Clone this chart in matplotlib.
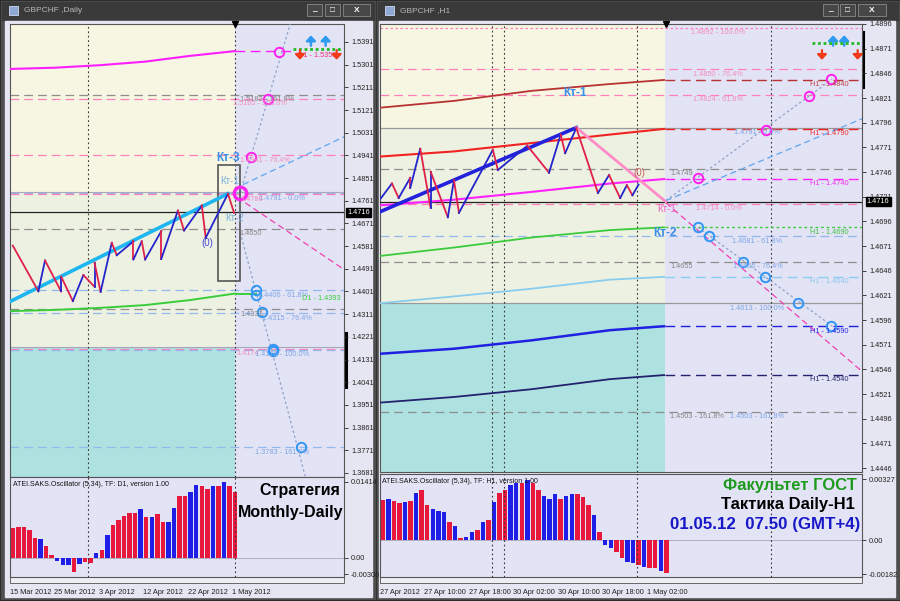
import matplotlib.pyplot as plt
from matplotlib.patches import Rectangle

plt.rcParams['font.family'] = ['Liberation Sans', 'DejaVu Sans']

W, H = 900, 601

# ---------------- GBPCHF Daily (left window) ----------------
d1_zz_bar = [0, 4.6, 5.8, 8.7, 8.7, 10.8, 12.7, 14.7, 14.7, 15.8, 17.8, 18.7, 21.7, 21.7,
             23.2, 23.8, 26.7, 26.7, 29.7, 30.8, 34.0, 34.7, 38.7, 39.8]
d1_zz_price = [1.4583, 1.4402, 1.4524, 1.4401, 1.4460, 1.4363, 1.4466, 1.4420, 1.4515, 1.4400,
               1.4594, 1.4545, 1.4600, 1.4528, 1.4600, 1.4528, 1.4640, 1.4530, 1.4722, 1.4643,
               1.4742, 1.4614, 1.4789, 1.4713]
d1_ma_bar = [-0.5, 7.6, 15.7, 23.8, 31.9, 40.0]
d1_ma_magenta = [1.5284, 1.5289, 1.5299, 1.5313, 1.5336, 1.5355]
d1_ma_green = [1.4323, 1.4328, 1.4336, 1.4347, 1.4367, 1.4393]
d1_trend_bar = [-0.5, 38.7]
d1_trend_price = [1.4361, 1.4789]
d1_proj_up = ([40.9, 49.9], [1.4793, 1.5462])
d1_proj_dn = ([40.9, 52.6], [1.4635, 1.3668])
d1_fan_up = ([41.4, 59.6], [1.4825, 1.5015])
d1_fan_dn = ([41.8, 59.6], [1.4753, 1.4488])
d1_box = ([36.9, 40.9], [1.4441, 1.4904])

d1_lines = [1.5182, 1.5165, 1.4941, 1.4791, 1.4786, 1.4650, 1.4406, 1.4331, 1.4315, 1.4174, 1.4170, 1.3783]
d1_line_kind = ['g', 'p', 'p', 'b', 'p', 'g', 'b', 'g', 'b', 'p', 'b', 'b']
d1_labels = ['1.5182 - 161.8%', '1.5165 - 100.0%', '1.4941 - 76.4%', '1.4791 - 0.0%', '1.4786',
             '1.4650', '1.4406 - 61.8%', '1.4331', '1.4315 - 76.4%', '1.4174', '1.4170 - 100.0%',
             '1.3783 - 161.8%']
d1_label_bar = [40.9, 39.6, 40.9, 44.3, 40.9, 40.7, 44.1, 40.9, 44.8, 40.3, 43.6, 43.6]

d1_circ_pink = ([47.9, 45.9, 42.8], [1.5353, 1.5165, 1.4935])
d1_circ_big = ([40.9], [1.4791])
d1_circ_blue = ([43.7, 43.7, 44.8, 46.8, 46.8, 51.8], [1.4405, 1.4389, 1.4318, 1.4171, 1.4163, 1.3783])

d1_osc = [0.00558, 0.00577, 0.00577, 0.00521, 0.00378, 0.00354, 0.00229, 0.00056, -0.00062, -0.00136,
          -0.00136, -0.00254, -0.00118, -0.00068, -0.00087, 0.00087, 0.00149, 0.00428, 0.00614, 0.00707,
          0.00781, 0.00837, 0.00837, 0.00912, 0.00763, 0.00769, 0.00825, 0.00670, 0.00670, 0.00936,
          0.01147, 0.01147, 0.01222, 0.01358, 0.01346, 0.01284, 0.01346, 0.01346, 0.01414, 0.01346, 0.01222]
d1_osc_col = list('rrrrrbrrbbbrbrrbrbrrrrrbrbrrbbrrbbrrbrbrr')
d1_dates = ['15 Mar 2012', '25 Mar 2012', '3 Apr 2012', '12 Apr 2012', '22 Apr 2012', '1 May 2012']
d1_date_bar = [0, 8, 16, 24, 32, 40]
d1_ticks = [1.5391, 1.5301, 1.5211, 1.5121, 1.5031, 1.4941, 1.4851, 1.4761, 1.4671, 1.4581,
            1.4491, 1.4401, 1.4311, 1.4221, 1.4131, 1.4041, 1.3951, 1.3861, 1.3771, 1.3681]
d1_osc_ticks = [-0.00306, 0.0, 0.01414]
d1_osc_ticklabels = ['-0.00306', '0.00', '0.01414']

# ---------------- GBPCHF H1 (right window) ----------------
h1_zz_bar = [-0.4, 1.65, 2.86, 4.95, 4.95, 6.74, 8.6, 8.6, 11.7, 12.8, 13.7, 19.8, 20.7, 26.0,
             29.9, 32.0, 32.8, 34.8, 38.7, 40.7, 42.7, 43.9, 44.9, 46.0]
h1_zz_price = [1.47190, 1.47344, 1.47197, 1.47402, 1.47300, 1.47696, 1.47098, 1.47464, 1.47002,
               1.47378, 1.47046, 1.47686, 1.47481, 1.47727, 1.47453, 1.47840, 1.47651, 1.47907,
               1.47248, 1.47430, 1.47197, 1.47327, 1.47225, 1.47333]
h1_ma_bar = [-0.5, 12.8, 26.8, 40.9, 50.6]
h1_ma_darkred = [1.48112, 1.48181, 1.48283, 1.48352, 1.48393]
h1_ma_red = [1.47617, 1.47669, 1.47754, 1.47840, 1.47897]
h1_ma_magenta = [1.47122, 1.47180, 1.47259, 1.47344, 1.47389]
h1_ma_green = [1.46610, 1.46695, 1.46797, 1.46872, 1.46900]
h1_ma_lblue = [1.46131, 1.46200, 1.46278, 1.46370, 1.46398]
h1_ma_blue = [1.45619, 1.45670, 1.45755, 1.45858, 1.45898]
h1_ma_navy = [1.45124, 1.45181, 1.45260, 1.45362, 1.45403]
h1_ma_levels = ['H1 - 1.4840', 'H1 - 1.4790', 'H1 - 1.4740', 'H1 - 1.4690', 'H1 - 1.4640',
                'H1 - 1.4590', 'H1 - 1.4540']
h1_trend = ([-0.4, 34.8], [1.4706, 1.4791])
h1_leg = ([34.8, 50.9], [1.4791, 1.4716])
h1_proj_up = ([50.9, 80.8], [1.4717, 1.4840])
h1_proj_dn = ([56.7, 80.8], [1.4690, 1.4590])
h1_fan_up = ([50.9, 86.2], [1.4717, 1.4800])
h1_fan_dn = ([50.9, 86.2], [1.4715, 1.4544])

h1_lines = [1.4892, 1.4850, 1.4824, 1.4791, 1.4749, 1.4714, 1.4681, 1.4655, 1.4613, 1.4503]
h1_line_kind = ['pd', 'p', 'p', 'gs', 'g', 'p', 'b', 'g', 'gs', 'g']
h1_labels = ['1.4892 - 100.0%', '1.4850 - 76.4%', '1.4824 - 61.8%', '1.4791 - 0.0%', '1.4749',
             '1.4714 - 0.0%', '1.4681 - 61.8%', '1.4655', '1.4655 - 76.4%', '1.4613 - 100.0%',
             '1.4503 - 161.8%', '1.4503 - 161.8%']
h1_label_price = [1.4892, 1.4850, 1.4824, 1.4791, 1.4749, 1.4714, 1.4681, 1.4655, 1.4655, 1.4613,
                  1.4503, 1.4503]
h1_label_kind = ['p', 'p', 'p', 'b', 'g', 'p', 'b', 'g', 'b', 'b', 'g', 'b']
h1_label_bar = [55.4, 55.8, 55.8, 63.2, 51.7, 56.3, 62.8, 51.7, 62.9, 62.4, 51.7, 62.4]

h1_circ_pink = ([56.7, 68.9, 76.7, 80.7], [1.47395, 1.47891, 1.48232, 1.48399])
h1_circ_blue = ([56.7, 58.7, 64.7, 68.8, 74.6, 80.7], [1.46900, 1.46815, 1.46548, 1.46398, 1.46131, 1.45898])

h1_osc = [0.00214, 0.00220, 0.00209, 0.00198, 0.00205, 0.00209, 0.00250, 0.00268, 0.00188, 0.00164,
          0.00154, 0.00148, 0.00095, 0.00077, 0.00013, 0.00018, 0.00041, 0.00052, 0.00096, 0.00107,
          0.00202, 0.00254, 0.00268, 0.00295, 0.00307, 0.00307, 0.00320, 0.00307, 0.00268, 0.00236,
          0.00220, 0.00245, 0.00222, 0.00238, 0.00245, 0.00245, 0.00232, 0.00186, 0.00132, 0.00043,
          -0.00027, -0.00041, -0.00064, -0.00098, -0.00118, -0.00125, -0.00134, -0.00143, -0.00148,
          -0.00152, -0.00164, -0.00175]
h1_osc_col = list('rbrrbrbrrbbbrbrbbrbrbrrbbrbr' 'rbbbrbbrrrbrbbrrbbrb' 'rrbr')
h1_dates = ['27 Apr 2012', '27 Apr 10:00', '27 Apr 18:00', '30 Apr 02:00', '30 Apr 10:00',
            '30 Apr 18:00', '1 May 02:00']
h1_date_bar = [0, 8, 16, 24, 32, 40, 48]
h1_ticks = [1.4896, 1.4871, 1.4846, 1.4821, 1.4796, 1.4771, 1.4746, 1.4721, 1.4696, 1.4671,
            1.4646, 1.4621, 1.4596, 1.4571, 1.4546, 1.4521, 1.4496, 1.4471, 1.4446]
h1_osc_ticks = [-0.00182, 0.0, 0.00327]
h1_osc_ticklabels = ['-0.00182', '0.00', '0.00327']

# ---------------- colours ----------------
YELLOW, DOTTED, CYAN, LAV = '#F6F6E2', '#EDF1E1', '#AEE2E0', '#E3E3F6'
PINK, PINK_T = '#FF80B8', '#F28DBC'
GREY, GREY_T = '#8E8E8E', '#858585'
LBLUE, LBLUE_T = '#93B8EE', '#7EA6E6'
OSC_R, OSC_B = '#E8183C', '#1E1EE6'
ZZ_R, ZZ_B = '#E0204A', '#2424CC'
DASH = (0, (7, 4))
DOT = (0, (2, 2))
FINE = (0, (1.5, 2.5))
SMALL = 5.3

fig = plt.figure(figsize=(9, 6.01), dpi=100)


def px_axes(x0, y0, x1, y1, **kw):
    return fig.add_axes([x0 / W, 1 - y1 / H, (x1 - x0) / W, (y1 - y0) / H], **kw)


# ---------------- window chrome ----------------
bg = px_axes(0, 0, W, H)
bg.set_xlim(0, W)
bg.set_ylim(H, 0)
bg.axis('off')
bg.add_patch(Rectangle((0, 0), W, H, color='#262626'))
windows = [(1, 375, 5, 372, 'GBPCHF ,Daily', [(307, 322), (325, 340), (343, 370)]),
           (377, 899, 379, 895, 'GBPCHF ,H1', [(823, 838), (840, 855), (858, 886)])]
for x0, x1, c0, c1, title, buttons in windows:
    bg.add_patch(Rectangle((x0, 1), x1 - x0, 598, color='#4E4E4E'))
    bg.add_patch(Rectangle((x0 + 1, 2), x1 - x0 - 2, 18, color='#3A3A3A'))
    bg.add_patch(Rectangle((c0, 21), c1 - c0, 576, color='#E6E6F2'))
    bg.add_patch(Rectangle((x0 + 8, 6), 9, 9, fc='#8FA9D6', ec='#D0D8F0', lw=0.6))
    bg.text(x0 + 23, 11, title, color='#B8B8B8', fontsize=6, va='center')
    for (b0, b1), glyph in zip(buttons, ['_', '□', 'X']):
        bg.add_patch(Rectangle((b0, 4), b1 - b0, 12, fc='#474747', ec='#8A8A8A', lw=0.6))
        bg.text((b0 + b1) / 2, 10, glyph, color='white', fontsize=6, ha='center', va='center',
                fontweight='bold')
# strips under the oscillators
bg.add_patch(Rectangle((10, 577), 334, 6, fc='#EDEDF6', ec='#666666', lw=0.7))
bg.add_patch(Rectangle((380, 577), 482, 6, fc='#EDEDF6', ec='#666666', lw=0.7))
bg.plot([345.5, 345.5], [333, 387], color='black', lw=2.2)
bg.plot([863, 863], [32, 87], color='black', lw=2.2)


def setup_main(ax, xlim, ylim, ticks):
    ax.set_xlim(xlim)
    ax.set_ylim(ylim)
    ax.set_facecolor(LAV)
    ax.yaxis.tick_right()
    ax.set_yticks(ticks)
    ax.set_yticklabels([f'{t:.4f}' for t in ticks])
    ax.tick_params(axis='y', direction='out', length=3, width=0.6, labelsize=SMALL, pad=2,
                   colors='#222222')
    ax.tick_params(axis='x', bottom=False, labelbottom=False)
    for s in ax.spines.values():
        s.set_color('#555555')
        s.set_linewidth(0.8)


def setup_osc(ax, ylim, ticks, ticklabels, date_bar, dates):
    ax.set_ylim(ylim)
    ax.set_facecolor(LAV)
    ax.yaxis.tick_right()
    ax.set_yticks(ticks)
    ax.set_yticklabels(ticklabels)
    ax.tick_params(axis='y', direction='out', length=3, width=0.6, labelsize=SMALL, pad=2,
                   colors='#222222')
    ax.set_xticks([b - 0.5 for b in date_bar])
    ax.set_xticklabels(dates, ha='left')
    ax.tick_params(axis='x', length=0, pad=9, labelsize=SMALL, colors='#222222')
    for s in ax.spines.values():
        s.set_color('#555555')
        s.set_linewidth(0.8)


def zigzag(ax, bars, prices):
    for i in range(len(bars) - 1):
        c = ZZ_R if prices[i + 1] < prices[i] else ZZ_B
        ax.plot(bars[i:i + 2], prices[i:i + 2], color=c, lw=1.3, zorder=5)


def flabel(ax, bar, price, text, color, size=SMALL, weight='normal'):
    ax.annotate(text, (bar, price), xytext=(0, -1), textcoords='offset points', va='top',
                ha='left', color=color, fontsize=size, fontweight=weight, zorder=7)


def osc_bars(ax, vals, cols):
    colors = [OSC_R if c == 'r' else OSC_B for c in cols]
    ax.bar(range(len(vals)), vals, width=0.8, color=colors, linewidth=0)


def signal_icons(ax, ups, downs, y_up, y_line, y_dn, line_x):
    style = '-|>,head_width=0.28,head_length=0.3'
    for x in ups:
        ax.annotate('', xy=(x, y_up), xycoords='axes fraction', xytext=(0, -7.5),
                    textcoords='offset points', annotation_clip=False, zorder=8,
                    arrowprops=dict(arrowstyle=style, color='#2E9BF0', lw=1.8,
                                    shrinkA=0, shrinkB=0))
    ax.plot(line_x, [y_line, y_line], transform=ax.transAxes, color='#22BB22', lw=2,
            ls=(0, (1, 1)), zorder=8, clip_on=False)
    for x in downs:
        ax.annotate('', xy=(x, y_dn), xycoords='axes fraction', xytext=(0, 7),
                    textcoords='offset points', annotation_clip=False, zorder=8,
                    arrowprops=dict(arrowstyle=style, color='#F03A1A', lw=1.6,
                                    shrinkA=0, shrinkB=0))


kind_style = {'g': (GREY, DASH), 'p': (PINK, DASH), 'b': (LBLUE, DASH), 'pd': (PINK, DOT),
              'gs': ('#9A9A9A', '-')}
kind_text = {'g': GREY_T, 'p': PINK_T, 'b': LBLUE_T}

# ================= left chart =================
axL = px_axes(10, 24, 344, 477)
oscL = px_axes(10, 477, 344, 577, sharex=axL)
setup_main(axL, (-0.5, 59.57), (1.36649, 1.54624), d1_ticks)
x0, x1 = axL.get_xlim()
y0, y1 = axL.get_ylim()
axL.add_patch(Rectangle((x0, 1.4797), 40 - x0, y1 - 1.4797, color=YELLOW, lw=0, zorder=0))
axL.add_patch(Rectangle((x0, 1.4179), 40 - x0, 1.4797 - 1.4179, color=DOTTED, lw=0, zorder=0))
axL.add_patch(Rectangle((x0, y0), 40 - x0, 1.4179 - y0, color=CYAN, lw=0, zorder=0))
axL.hlines([1.4179, 1.4797], x0, x1, colors='#A8A8B8', lw=0.8, zorder=1)

for p, k in zip(d1_lines, d1_line_kind):
    c, ls = kind_style[k]
    axL.hlines(p, x0, x1, colors=c, linestyles=[ls], lw=0.9, zorder=2)
for txt, b, p, k in zip(d1_labels, d1_label_bar, d1_lines, d1_line_kind):
    flabel(axL, b, p, txt, kind_text[k])
axL.axhline(1.4716, color='#222222', lw=0.9, zorder=3)

for xv in [13.5, 40.0]:
    axL.axvline(xv, color='#333333', ls=FINE, lw=0.8, zorder=3)
    oscL.axvline(xv, color='#333333', ls=FINE, lw=0.8, zorder=3)

axL.plot(d1_ma_bar, d1_ma_magenta, color='#FF1EFF', lw=1.5, zorder=4)
axL.hlines(d1_ma_magenta[-1], 40, 50.3, colors='#FF1EFF', linestyles=[DASH], lw=1, zorder=4)
flabel(axL, 51.3, d1_ma_magenta[-1], 'D1 - 1.5355', '#F0307A')
axL.plot(d1_ma_bar, d1_ma_green, color='#3ACD3A', lw=1.4, zorder=4)
axL.hlines(d1_ma_green[-1], 40, 44, colors='#3ACD3A', lw=1.4, zorder=4)
flabel(axL, 52.0, d1_ma_green[-1], 'D1 - 1.4393', '#3ACD3A')

axL.plot(*d1_proj_up, color='#8FA2C8', ls=DOT, lw=0.9, zorder=4)
axL.plot(*d1_proj_dn, color='#8FA2C8', ls=DOT, lw=0.9, zorder=4)
axL.plot(*d1_fan_up, color='#5EA6EE', ls=(0, (5, 3)), lw=0.9, zorder=4)
axL.plot(*d1_fan_dn, color='#F040B0', ls=(0, (5, 3)), lw=0.9, zorder=4)
axL.add_patch(Rectangle((d1_box[0][0], d1_box[1][0]), d1_box[0][1] - d1_box[0][0],
                        d1_box[1][1] - d1_box[1][0], fill=False, ec='#555555', lw=1.2, zorder=4))

axL.plot(d1_trend_bar, d1_trend_price, color='#1EB6F0', lw=2.6, zorder=5)
zigzag(axL, d1_zz_bar, d1_zz_price)

axL.plot(*d1_circ_pink, 'o', ms=6.8, mfc='none', mec='#FF22EE', mew=1.4, zorder=6)
axL.plot(*d1_circ_big, 'o', ms=9, mfc='none', mec='#FF22EE', mew=2.4, zorder=6)
axL.plot(*d1_circ_blue, 'o', ms=6.8, mfc='none', mec='#3296F5', mew=1.4, zorder=6)

axL.text(36.6, 1.4932, 'Кт-3', color='#3A8EE6', fontsize=8.5, fontweight='bold', va='center',
         zorder=7)
axL.text(37.3, 1.4841, 'Кт-1', color='#7AB0E0', fontsize=7, va='center', zorder=7)
axL.text(38.3, 1.4694, 'Кт-2', color='#7AB0E0', fontsize=7, va='center', zorder=7)
axL.text(34.0, 1.4595, '(0)', color='#4646D8', fontsize=7, va='center', zorder=7)
axL.plot([40], [y1], marker='v', color='black', ms=4, clip_on=False, zorder=9)
axL.text(1.01, 1.4716, '1.4716', transform=axL.get_yaxis_transform(), color='white',
         fontsize=SMALL, va='center', ha='left',
         bbox=dict(facecolor='black', edgecolor='black', pad=0.8), zorder=9)
signal_icons(axL, [0.901, 0.945], [0.868, 0.978], 0.975, 0.945, 0.921, [0.847, 0.994])

setup_osc(oscL, (-0.00354, 0.01507), d1_osc_ticks, d1_osc_ticklabels, d1_date_bar, d1_dates)
osc_bars(oscL, d1_osc, d1_osc_col)
oscL.axhline(0, color='#9A9AB0', lw=0.5, zorder=0)
oscL.text(0.009, 0.93, 'ATEI.SAKS.Oscillator (5,34), TF: D1, version 1.00', transform=oscL.transAxes,
          fontsize=5, va='center', color='#111111')
oscL.text(0.988, 0.86, 'Стратегия', transform=oscL.transAxes, fontsize=11.5, fontweight='bold',
          ha='right', va='center', color='black')
oscL.text(0.998, 0.65, 'Monthly-Daily', transform=oscL.transAxes, fontsize=11.5, fontweight='bold',
          ha='right', va='center', color='black')

# ================= right chart =================
axR = px_axes(380, 24, 862, 472)
oscR = px_axes(380, 474, 862, 577, sharex=axR)
setup_main(axR, (-0.5, 86.19), (1.44421, 1.48911), h1_ticks)
x0, x1 = axR.get_xlim()
y0, y1 = axR.get_ylim()
split = 50.8
axR.add_patch(Rectangle((x0, 1.4791), split - x0, y1 - 1.4791, color=YELLOW, lw=0, zorder=0))
axR.add_patch(Rectangle((x0, 1.4613), split - x0, 1.4791 - 1.4613, color=DOTTED, lw=0, zorder=0))
axR.add_patch(Rectangle((x0, y0), split - x0, 1.4613 - y0, color=CYAN, lw=0, zorder=0))

for p, k in zip(h1_lines, h1_line_kind):
    c, ls = kind_style[k]
    axR.hlines(p, x0, x1, colors=c, linestyles=[ls], lw=0.9, zorder=2)
for txt, b, p, k in zip(h1_labels, h1_label_bar, h1_label_price, h1_label_kind):
    flabel(axR, b, p, txt, kind_text[k])
axR.axhline(1.4716, color='#222222', lw=0.9, zorder=3)

for xv in [19.6, 21.8, 45.8, 69.8]:
    axR.axvline(xv, color='#333333', ls=FINE, lw=0.8, zorder=3)
    oscR.axvline(xv, color='#333333', ls=FINE, lw=0.8, zorder=3)

ma_series = [h1_ma_darkred, h1_ma_red, h1_ma_magenta, h1_ma_green, h1_ma_lblue, h1_ma_blue, h1_ma_navy]
ma_colors = ['#B83232', '#F22222', '#FF22FF', '#3CCB3C', '#88CCEE', '#2020E0', '#22226E']
ma_text = ['#C04848', '#F03030', '#F030F0', '#44C044', '#90C8E8', '#2A2AE0', '#2A2A70']
ma_width = [1.3, 1.5, 1.5, 1.3, 1.3, 1.8, 1.3]
for vals, c, tc, lw, txt in zip(ma_series, ma_colors, ma_text, ma_width, h1_ma_levels):
    axR.plot(h1_ma_bar, vals, color=c, lw=lw, zorder=4)
    ls = DOT if c == '#3CCB3C' else DASH
    axR.hlines(vals[-1], split, x1, colors=c, linestyles=[ls], lw=1, zorder=4)
    flabel(axR, 76.8, vals[-1], txt, tc)

axR.plot(*h1_proj_up, color='#8FA2C8', ls=DOT, lw=0.9, zorder=4)
axR.plot(*h1_proj_dn, color='#8FA2C8', ls=DOT, lw=0.9, zorder=4)
axR.plot(*h1_fan_up, color='#5EA6EE', ls=(0, (5, 3)), lw=0.9, zorder=4)
axR.plot(*h1_fan_dn, color='#F040B0', ls=(0, (5, 3)), lw=0.9, zorder=4)

axR.plot(*h1_trend, color='#2222DD', lw=2.6, zorder=5)
axR.plot(*h1_leg, color='#FF8CC8', lw=2, zorder=5)
zigzag(axR, h1_zz_bar, h1_zz_price)

axR.plot(*h1_circ_pink, 'o', ms=6.8, mfc='none', mec='#FF22EE', mew=1.4, zorder=6)
axR.plot(*h1_circ_blue, 'o', ms=6.8, mfc='none', mec='#3296F5', mew=1.4, zorder=6)

axR.text(32.4, 1.4826, 'Кт-1', color='#3A8EE6', fontsize=8.5, fontweight='bold', va='center',
         zorder=7)
axR.text(48.6, 1.4684, 'Кт-2', color='#3A8EE6', fontsize=8.5, fontweight='bold', va='center',
         zorder=7)
axR.text(49.3, 1.4709, 'Кт-1', color='#F060C8', fontsize=7, va='center', zorder=7)
axR.text(45.0, 1.4745, '(0)', color='#C86060', fontsize=7, va='center', zorder=7)
axR.plot([51], [y1], marker='v', color='black', ms=4, clip_on=False, zorder=9)
axR.text(1.01, 1.4716, '1.4716', transform=axR.get_yaxis_transform(), color='white',
         fontsize=SMALL, va='center', ha='left',
         bbox=dict(facecolor='black', edgecolor='black', pad=0.8), zorder=9)
signal_icons(axR, [0.940, 0.963], [0.917, 0.991], 0.975, 0.957, 0.920, [0.896, 1.0])

setup_osc(oscR, (-0.00198, 0.00354), h1_osc_ticks, h1_osc_ticklabels, h1_date_bar, h1_dates)
osc_bars(oscR, h1_osc, h1_osc_col)
oscR.axhline(0, color='#9A9AB0', lw=0.5, zorder=0)
oscR.text(0.004, 0.932, 'ATEI.SAKS.Oscillator (5,34), TF: H1, version 1.00', transform=oscR.transAxes,
          fontsize=5, va='center', color='#111111')
oscR.text(0.99, 0.893, 'Факультет ГОСТ', transform=oscR.transAxes, fontsize=12, fontweight='bold',
          ha='right', va='center', color='#1E9A1E')
oscR.text(0.985, 0.70, 'Тактика Daily-H1', transform=oscR.transAxes, fontsize=12,
          fontweight='bold', ha='right', va='center', color='black')
oscR.text(0.996, 0.505, '01.05.12  07.50 (GMT+4)', transform=oscR.transAxes, fontsize=12.2,
          fontweight='bold', ha='right', va='center', color='#1818C8')

fig.savefig('out.png', dpi=100)
